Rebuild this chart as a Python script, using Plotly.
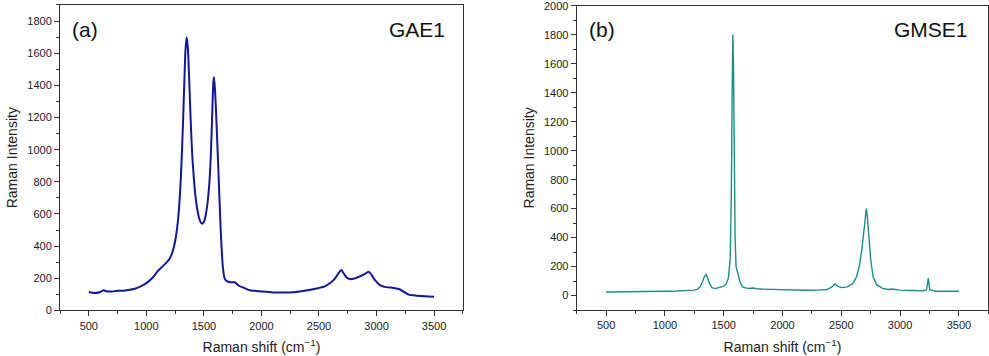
import plotly.graph_objects as go
from plotly.subplots import make_subplots

# Panel (a) GAE1
gae1_shift = [500, 550, 600, 630, 650, 700, 750, 800, 850, 900, 950, 1000, 1050, 1100, 1150,
              1200, 1230, 1250, 1265, 1280, 1290, 1300, 1310, 1320, 1330, 1340, 1350, 1360,
              1370, 1380, 1390, 1400, 1415, 1430, 1445, 1460, 1475, 1490, 1505, 1520, 1535,
              1550, 1562, 1574, 1582, 1588, 1596, 1606, 1616, 1626, 1636, 1646, 1656, 1666,
              1680, 1700, 1730, 1770, 1800, 1850, 1900, 2000, 2100, 2200,
              2300, 2400, 2500, 2550, 2600, 2640, 2670, 2694, 2715, 2740, 2770, 2800, 2850,
              2900, 2935, 2960, 2990, 3030, 3080, 3150, 3200, 3240, 3280, 3350, 3420, 3500]
gae1_int = [115, 108, 115, 125, 120, 118, 122, 122, 128, 135, 150, 170, 200, 245, 280,
            320, 370, 430, 500, 600, 700, 830, 1000, 1200, 1420, 1620, 1700, 1640,
            1480, 1280, 1100, 950, 800, 690, 620, 570, 545, 540, 560, 610, 690,
            820, 1000, 1260, 1420, 1450, 1380, 1230, 1050, 870, 680, 500, 360, 260,
            200, 182, 175, 175, 155, 140, 125, 118, 112, 112,
            115, 125, 140, 150, 172, 200, 232, 252, 230, 205, 195, 197, 210,
            228, 240, 218, 185, 158, 145, 140, 132, 115, 98, 92, 88, 85]

# Panel (b) GMSE1
gmse1_shift = [500, 600, 700, 800, 900, 1000, 1100, 1200, 1250, 1280, 1300, 1320, 1335, 1350,
               1362, 1380, 1400, 1430, 1460, 1480, 1500, 1520, 1540, 1555, 1565, 1572, 1578,
               1583, 1590, 1597, 1605, 1615, 1625, 1640, 1660, 1700, 1750, 1800, 1900, 2000,
               2100, 2200, 2300, 2380, 2420, 2445, 2470, 2500, 2550, 2600, 2630, 2655, 2675,
               2692, 2705, 2713, 2722, 2735, 2750, 2770, 2800, 2850, 2900, 2930, 3000, 3100,
               3200, 3225, 3240, 3252, 3300, 3400, 3500]
gmse1_int = [25, 25, 27, 27, 28, 30, 32, 35, 38, 45, 60, 95, 130, 145,
             125, 80, 55, 48, 55, 60, 65, 80, 120, 250, 700, 1400, 1800,
             1600, 900, 400, 200, 160, 140, 90, 60, 50, 52, 45, 42, 40,
             38, 37, 38, 42, 60, 80, 65, 55, 60, 85, 130, 210, 320,
             440, 540, 600, 540, 400, 250, 130, 75, 50, 42, 45, 38, 35,
             33, 40, 120, 40, 30, 30, 30]

x_ticks = [500, 1000, 1500, 2000, 2500, 3000, 3500]
y_ticks_a = [0, 200, 400, 600, 800, 1000, 1200, 1400, 1600, 1800]
y_ticks_b = [0, 200, 400, 600, 800, 1000, 1200, 1400, 1600, 1800, 2000]

fig = make_subplots(rows=1, cols=2)
fig.add_trace(go.Scatter(x=gae1_shift, y=gae1_int, mode="lines", name="GAE1",
                         line=dict(color="#1414a6", width=2, shape="spline", smoothing=0.6)),
              row=1, col=1)
fig.add_trace(go.Scatter(x=gmse1_shift, y=gmse1_int, mode="lines", name="GMSE1",
                         line=dict(color="#1b8f86", width=1.4)), row=1, col=2)

axis_common = dict(showline=True, linecolor="#333333", linewidth=1, mirror=True,
                   ticks="outside", ticklen=5, tickcolor="#333333", showgrid=False,
                   zeroline=False, tickfont=dict(family="Liberation Sans, Arial", size=11, color="#222222"),
                   automargin=False, ticklabeloverflow="allow")

title_font = dict(family="Liberation Sans, Arial", size=14, color="#222222")

fig.update_xaxes(**axis_common, range=[250, 3750], tickvals=x_ticks,
                 minor=dict(ticks="outside", dtick=250, tick0=0, ticklen=3, tickcolor="#333333"),
                 title=dict(text="Raman shift (cm<sup>−1</sup>)", font=title_font, standoff=11))
fig.update_yaxes(**axis_common,
                 title=dict(text="Raman Intensity", font=title_font, standoff=6))

fig.update_xaxes(domain=[0.0607, 0.468], row=1, col=1)
fig.update_xaxes(domain=[0.5831, 0.9993], row=1, col=2)
fig.update_yaxes(domain=[0.128, 0.986], range=[0, 1900], tickvals=y_ticks_a,
                 minor=dict(ticks="outside", dtick=100, ticklen=3, tickcolor="#333333"),
                 row=1, col=1)
fig.update_yaxes(domain=[0.129, 0.984], range=[-100, 2000.5], tickvals=y_ticks_b,
                 minor=dict(ticks="outside", dtick=100, ticklen=3, tickcolor="#333333"),
                 row=1, col=2)

label_font = dict(family="Liberation Sans, Arial", size=21, color="#111111")
fig.add_annotation(text="(a)", xref="paper", yref="paper", x=70/989, y=1-30/356,
                   xanchor="left", yanchor="middle", showarrow=False, font=label_font)
fig.add_annotation(text="GAE1", xref="paper", yref="paper", x=447/989, y=1-30/356,
                   xanchor="right", yanchor="middle", showarrow=False, font=label_font)
fig.add_annotation(text="(b)", xref="paper", yref="paper", x=587/989, y=1-30/356,
                   xanchor="left", yanchor="middle", showarrow=False, font=label_font)
fig.add_annotation(text="GMSE1", xref="paper", yref="paper", x=970/989, y=1-30/356,
                   xanchor="right", yanchor="middle", showarrow=False, font=label_font)

fig.update_layout(width=989, height=356, margin=dict(l=0, r=0, t=0, b=0),
                  paper_bgcolor="white", plot_bgcolor="white", showlegend=False)

fig.write_html("out.html", config={"displayModeBar": False},
               post_script="document.body.style.margin='0';document.body.style.overflow='hidden';")
